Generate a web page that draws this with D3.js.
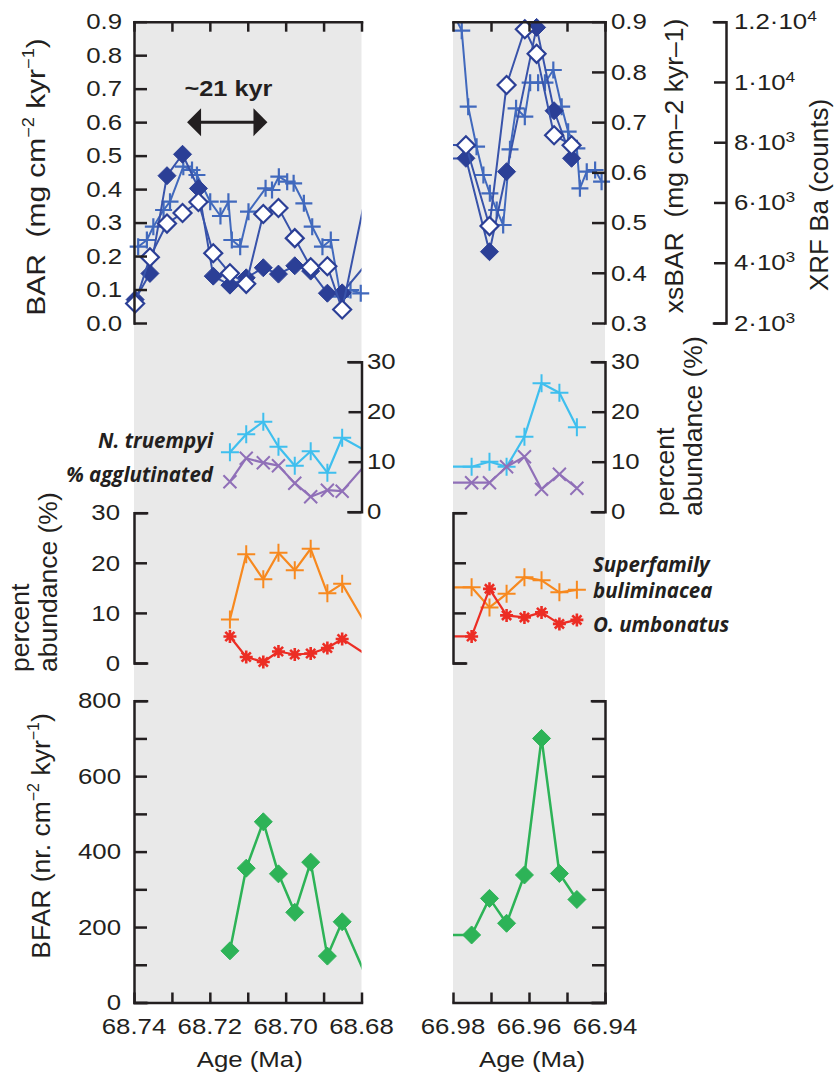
<!DOCTYPE html>
<html>
<head>
<meta charset="utf-8">
<script src="https://cdn.jsdelivr.net/npm/d3@7"></script>
<style>
body { margin: 0; background: #fff; }
svg text { font-family: "Liberation Sans", Arial, sans-serif; fill: #231f20; }
.it { font-family: "Open Sans", "Noto Sans", sans-serif; font-style: italic; font-weight: 700; }
</style>
</head>
<body>
<svg id="chart" width="836" height="1078"></svg>
<script>
// ---- data: left section (68.74-68.68 Ma) ----
const diamondAgesL = [68.7397, 68.7358, 68.7313, 68.7272, 68.7230, 68.7191, 68.7147, 68.7104, 68.7059, 68.7019, 68.6976, 68.6934, 68.6890, 68.6851, 68.6770];
const barL   = [0.07, 0.148, 0.44, 0.504, 0.402, 0.14, 0.113, 0.135, 0.165, 0.146, 0.171, 0.155, 0.089, 0.09, 0.2];
const xsbarL = [0.339, 0.431, 0.498, 0.519, 0.541, 0.439, 0.399, 0.378, 0.517, 0.529, 0.469, 0.411, 0.413, 0.327, 0.623];

const xrfAgesL = [68.7389, 68.7366, 68.7349, 68.7322, 68.7305, 68.7270, 68.7247, 68.7234, 68.7199, 68.7172, 68.7151, 68.7142, 68.7120, 68.7098, 68.7053, 68.7036, 68.7018, 68.6996, 68.6979, 68.6952, 68.6930, 68.6903, 68.6881, 68.6855, 68.6829, 68.6802, 68.6778];
const xrfL = [4532, 4755, 5196, 5750, 6026, 7188, 7078, 6912, 6026, 5551, 6026, 4755, 4532, 5694, 6471, 6414, 6856, 6690, 6637, 5973, 5196, 4532, 4755, 2873, 3095, 2986, 2929];

const foramAgesL = [68.7147, 68.7104, 68.7059, 68.7019, 68.6976, 68.6934, 68.6890, 68.6851, 68.6770];
const truempyiL = [11.9, 15.5, 18.0, 13.0, 9.2, 12.1, 7.8, 14.8, 11.4];
const agglutL   = [6.0, 10.7, 9.8, 9.2, 5.7, 3.0, 4.3, 4.1, 11.1];
const bulimL    = [8.7, 21.7, 16.7, 22.0, 18.5, 22.8, 13.9, 15.8, 5.3];
const umbonL    = [5.3, 1.2, 0.2, 2.3, 1.7, 1.9, 3.0, 4.8, 0.8];
const bfarL     = [137, 356, 479, 341, 239, 372, 123, 214, 28];

// ---- data: right section (66.98-66.94 Ma) ----
const filledAgesR = [66.9834, 66.9766, 66.9704, 66.9659, 66.9580, 66.9534, 66.9488];
const barR = [0.49, 0.492, 0.213, 0.452, 0.883, 0.634, 0.492];
const openAgesR = [66.9834, 66.9766, 66.9704, 66.9659, 66.9611, 66.9580, 66.9534, 66.9488];
const xsbarR = [0.655, 0.654, 0.493, 0.774, 0.885, 0.836, 0.674, 0.654];

const xrfAgesR = [66.9810, 66.9777, 66.9760, 66.9738, 66.9720, 66.9703, 66.9685, 66.9668, 66.9650, 66.9634, 66.9611, 66.9597, 66.9576, 66.9558, 66.9536, 66.9514, 66.9497, 66.9474, 66.9466, 66.9448, 66.9426, 66.9409];
const xrfR = [12554, 11702, 9179, 7851, 6912, 6304, 5750, 5253, 7765, 9126, 8847, 9976, 9976, 9976, 10397, 9179, 8349, 7798, 6471, 7022, 7078, 6690];

const foramAgesR = [66.9840, 66.9751, 66.9704, 66.9659, 66.9612, 66.9567, 66.9520, 66.9474];
const truempyiR = [9.0, 9.0, 10.0, 9.0, 15.0, 25.7, 23.8, 16.9];
const agglutR   = [5.8, 5.8, 5.8, 9.0, 11.0, 4.5, 7.5, 4.7];
const bulimR    = [15.1, 15.1, 11.1, 13.8, 17.1, 16.5, 14.1, 14.6];
const umbonR    = [5.3, 5.3, 14.8, 9.5, 9.1, 10.1, 7.8, 8.6];
const bfarR     = [179, 179, 276, 210, 338, 700, 342, 273];

// tick values
const ageTicksL = [68.74, 68.73, 68.72, 68.71, 68.70, 68.69, 68.68];
const ageLabelsL = [68.74, 68.72, 68.70, 68.68];
const ageTicksR = [66.98, 66.97, 66.96, 66.95, 66.94];
const ageLabelsR = [66.98, 66.96, 66.94];
const barTicks = [0, 0.1, 0.2, 0.3, 0.4, 0.5, 0.6, 0.7, 0.8, 0.9];
const xsbarTicks = [0.3, 0.4, 0.5, 0.6, 0.7, 0.8, 0.9];
const xrfTicks = [2000, 4000, 6000, 8000, 10000, 12000];
const pctTicks = [0, 10, 20, 30];
const bfarTicks = [0, 100, 200, 300, 400, 500, 600, 700, 800];
const bfarLabels = [0, 200, 400, 600, 800];

const ink = "#231f20";
const blueDark = "#2b3f96", blueLine = "#3853aa", blueCross = "#4169bd";
const cyan = "#3fbfee", purple = "#9070b8", orange = "#f7891f", red = "#ec2d24", green = "#2db357";
const SX = 1.2; // horizontal stretch of the printed lettering
const FS = 21.5;

const svg = d3.select("#chart");

const xL = d3.scaleLinear().domain([68.74, 68.68]).range([134, 361.5]);
const xR = d3.scaleLinear().domain([66.98, 66.94]).range([453, 605]);
const yBar = d3.scaleLinear().domain([0, 0.9]).range([323, 21.7]);
const yXs = d3.scaleLinear().domain([0.3, 0.9]).range([323, 21.7]);
const yXrf = d3.scaleLinear().domain([2000, 12000]).range([323, 21.7]);
const yPctA = d3.scaleLinear().domain([0, 30]).range([511.7, 361.7]);
const yPctB = d3.scaleLinear().domain([0, 30]).range([663, 512.7]);
const yBfar = d3.scaleLinear().domain([0, 800]).range([1002.5, 700.7]);

const yTop = yBar(0.9), yBottom = yBfar(0);

// gray backgrounds + clips
[["L", xL], ["R", xR]].forEach(([id, x]) => {
  const [x0, x1] = x.range();
  svg.append("rect").attr("x", x0).attr("y", yTop).attr("width", x1 - x0).attr("height", yBottom - yTop).attr("fill", "#e9e9e9");
  svg.append("clipPath").attr("id", "clip" + id).append("rect")
    .attr("x", x0).attr("y", yTop).attr("width", x1 - x0).attr("height", yBottom - yTop);
});

function label(g, x, y, txt, anchor, size) {
  return g.append("text")
    .attr("transform", `translate(${x},${y}) scale(${SX},1)`)
    .attr("text-anchor", anchor || "middle")
    .attr("font-size", size || FS)
    .attr("dy", "0.36em")
    .text(txt);
}

function styleAxis(g) {
  g.selectAll("path, line").attr("stroke", ink).attr("stroke-width", 2.5);
  g.selectAll("text").remove();
  g.select(".domain").attr("stroke-linecap", "square");
}

function markerPath(type) {
  switch (type) {
    case "plus": return "M-8.5,0H8.5M0,-8.5V8.5";
    case "plusBig": return "M-9,0H9M0,-9V9";
    case "x": return "M-6.5,-6.5L6.5,6.5M-6.5,6.5L6.5,-6.5";
    case "star": return "M-6.5,0H6.5M0,-6.5V6.5M-4.6,-4.6L4.6,4.6M-4.6,4.6L4.6,-4.6";
    default: return "M0,-9L9,0L0,9L-9,0Z";
  }
}

function series(x, y, ages, vals, o) {
  const pts = ages.map((a, i) => [a, vals[i]]);
  const clip = x === xL ? "url(#clipL)" : "url(#clipR)";
  svg.append("path")
    .attr("clip-path", clip)
    .attr("d", d3.line().x(d => x(d[0])).y(d => y(d[1]))(pts))
    .attr("fill", "none").attr("stroke", o.line).attr("stroke-width", o.lw || 2)
    .attr("stroke-linejoin", "round");
  const [d0, d1] = x.domain();
  const lo = Math.min(d0, d1), hi = Math.max(d0, d1);
  const inside = pts.filter(d => d[0] >= lo - 1e-6 && d[0] <= hi + 1e-6 && y(d[1]) >= yTop - 1);
  const m = svg.append("g");
  m.selectAll("path").data(inside).join("path")
    .attr("transform", d => `translate(${x(d[0])},${y(d[1])})`)
    .attr("d", markerPath(o.marker))
    .attr("fill", o.fill || "none")
    .attr("stroke", o.stroke || o.line)
    .attr("stroke-width", o.sw || 2);
}

// ---- top panels ----
[[xL, xrfAgesL, xrfL], [xR, xrfAgesR, xrfR]].forEach(([x, a, v]) =>
  series(x, yXrf, a, v, { line: blueCross, marker: "plus", sw: 2.2 }));
series(xL, yBar, diamondAgesL, barL, { line: blueLine, marker: "diamond", fill: blueDark, stroke: blueDark, sw: 1 });
series(xR, yBar, filledAgesR, barR, { line: blueLine, marker: "diamond", fill: blueDark, stroke: blueDark, sw: 1 });
series(xL, yXs, diamondAgesL, xsbarL, { line: blueLine, marker: "diamond", fill: "#fff", stroke: blueDark, sw: 2.2 });
series(xR, yXs, openAgesR, xsbarR, { line: blueLine, marker: "diamond", fill: "#fff", stroke: blueDark, sw: 2.2 });

// ---- middle panels ----
series(xL, yPctA, foramAgesL, truempyiL, { line: cyan, marker: "plusBig", lw: 2.2 });
series(xR, yPctA, foramAgesR, truempyiR, { line: cyan, marker: "plusBig", lw: 2.2 });
series(xL, yPctA, foramAgesL, agglutL, { line: purple, marker: "x", lw: 2.2 });
series(xR, yPctA, foramAgesR, agglutR, { line: purple, marker: "x", lw: 2.2 });
series(xL, yPctB, foramAgesL, bulimL, { line: orange, marker: "plusBig", lw: 2.2 });
series(xR, yPctB, foramAgesR, bulimR, { line: orange, marker: "plusBig", lw: 2.2 });
series(xL, yPctB, foramAgesL, umbonL, { line: red, marker: "star", lw: 2.2, sw: 2.6 });
series(xR, yPctB, foramAgesR, umbonR, { line: red, marker: "star", lw: 2.2, sw: 2.6 });

// ---- bottom panels ----
series(xL, yBfar, foramAgesL, bfarL, { line: green, marker: "diamond", fill: green, stroke: green, lw: 2.5, sw: 1 });
series(xR, yBfar, foramAgesR, bfarR, { line: green, marker: "diamond", fill: green, stroke: green, lw: 2.5, sw: 1 });

// ---- axes ----
function axis(gen, tx, ty) {
  const g = svg.append("g").attr("transform", `translate(${tx},${ty})`).call(gen);
  styleAxis(g);
  return g;
}
// top frames
axis(d3.axisTop(xL).tickValues(ageTicksL).tickSizeInner(-10).tickSizeOuter(0), 0, yTop);
axis(d3.axisTop(xR).tickValues(ageTicksR).tickSizeInner(-10).tickSizeOuter(0), 0, yTop);
// bottom age axes
axis(d3.axisBottom(xL).tickValues(ageTicksL).tickSizeInner(-10).tickSizeOuter(0), 0, yBottom);
axis(d3.axisBottom(xR).tickValues(ageTicksR).tickSizeInner(-10).tickSizeOuter(0), 0, yBottom);
// BAR
axis(d3.axisLeft(yBar).tickValues(barTicks).tickSizeInner(-13).tickSizeOuter(0), 134, 0);
// xsBAR
axis(d3.axisRight(yXs).tickValues(xsbarTicks).tickSizeInner(-13).tickSizeOuter(0), 605, 0);
// XRF
axis(d3.axisRight(yXrf).tickValues(xrfTicks).tickSizeInner(-12).tickSizeOuter(-12), 726, 0);
// percent (upper) on the right of each section
axis(d3.axisRight(yPctA).tickValues(pctTicks).tickSizeInner(-13).tickSizeOuter(-13), 361.5, 0);
axis(d3.axisRight(yPctA).tickValues(pctTicks).tickSizeInner(-13).tickSizeOuter(-13), 605, 0);
// percent (lower) on the left of each section
axis(d3.axisLeft(yPctB).tickValues(pctTicks).tickSizeInner(-13).tickSizeOuter(-13), 134, 0);
axis(d3.axisLeft(yPctB).tickValues(pctTicks).tickSizeInner(-13).tickSizeOuter(-13), 453, 0);
// BFAR
axis(d3.axisLeft(yBfar).tickValues(bfarTicks).tickSizeInner(-13).tickSizeOuter(-13), 134, 0);
axis(d3.axisRight(yBfar).tickValues(bfarTicks).tickSizeInner(-13).tickSizeOuter(-13), 605, 0);

// ---- tick labels ----
const t = svg.append("g");
const f1 = d3.format(".1f"), f2 = d3.format(".2f");
barTicks.forEach(v => label(t, 122, yBar(v), f1(v), "end"));
xsbarTicks.forEach(v => label(t, 611, yXs(v), f1(v), "start"));
xrfTicks.forEach(v => {
  const e = Math.floor(Math.log10(v)), m = +(v / Math.pow(10, e)).toFixed(1);
  const tx = label(t, 734, yXrf(v), null, "start");
  tx.append("tspan").text(m + "·10");
  tx.append("tspan").attr("font-size", 14.5).attr("dy", -8).text(e);
});
pctTicks.forEach(v => label(t, 367, yPctA(v), v, "start"));
pctTicks.forEach(v => label(t, 611, yPctA(v), v, "start"));
pctTicks.forEach(v => label(t, 120, yPctB(v), v, "end"));
bfarLabels.forEach(v => label(t, 121, yBfar(v), v, "end"));
ageLabelsL.forEach(v => label(t, xL(v), 1026, f2(v), "middle"));
ageLabelsR.forEach(v => label(t, xR(v), 1026, f2(v), "middle"));
label(t, d3.mean(xL.range()) + 2, 1059, "Age (Ma)", "middle");
label(t, d3.mean(xR.range()) + 3, 1059, "Age (Ma)", "middle");

// ---- rotated axis titles ----
function vtitle(x, y, anchor, parts, stretch, size) {
  const tx = svg.append("text")
    .attr("transform", `translate(${x},${y}) rotate(-90) scale(${stretch || 1},1)`)
    .attr("text-anchor", anchor).attr("font-size", size || 26.5)
    .attr("xml:space", "preserve");
  parts.forEach(p => {
    if (typeof p === "string") tx.append("tspan").text(p);
    else if (p.sup) tx.append("tspan").attr("font-size", 16).attr("dy", -11).text(p.sup);
    else tx.append("tspan").attr("dy", 11).text(p.after);
  });
}
vtitle(45, 177, "middle", ["BAR  (mg cm", { sup: "−2" }, { after: " kyr" }, { sup: "−1" }, { after: ")" }], 1.13);
vtitle(683, 166, "middle", ["xsBAR  (mg cm–2 kyr–1)"]);
vtitle(828, 195, "middle", ["XRF Ba (counts)"], 1.04, 25);
vtitle(29, 672, "start", ["percent"]);
vtitle(57, 672, "start", ["abundance (%)"]);
vtitle(674, 516, "start", ["percent"]);
vtitle(702, 516, "start", ["abundance (%)"]);
vtitle(50, 836, "middle", ["BFAR (nr. cm", { sup: "−2" }, { after: " kyr" }, { sup: "−1" }, { after: ")" }]);

// ---- species labels ----
function ital(x, y, txt, anchor) {
  svg.append("text").attr("class", "it").attr("x", x).attr("y", y)
    .attr("text-anchor", anchor).attr("font-size", 20.5).text(txt);
}
ital(213, 448, "N. truempyi", "end");
ital(213, 482, "% agglutinated", "end");
ital(593, 572, "Superfamily", "start");
ital(593, 598, "buliminacea", "start");
ital(593, 632, "O. umbonatus", "start");

// ---- ~21 kyr arrow ----
const ax0 = xL(68.7260), ax1 = xL(68.7048), ay = yBar(0.6);
svg.append("line").attr("x1", ax0 + 10).attr("x2", ax1 - 10).attr("y1", ay).attr("y2", ay)
  .attr("stroke", ink).attr("stroke-width", 3);
svg.append("path").attr("d", `M${ax0},${ay}L${ax0 + 14},${ay - 14}L${ax0 + 14},${ay + 14}Z`).attr("fill", ink);
svg.append("path").attr("d", `M${ax1},${ay}L${ax1 - 14},${ay - 14}L${ax1 - 14},${ay + 14}Z`).attr("fill", ink);
svg.append("text").attr("transform", `translate(${xL(68.7151)},${yBar(0.678)}) scale(1.15,1)`)
  .attr("text-anchor", "middle").attr("font-size", 22).attr("font-weight", "bold").text("~21 kyr");
</script>
</body>
</html>
